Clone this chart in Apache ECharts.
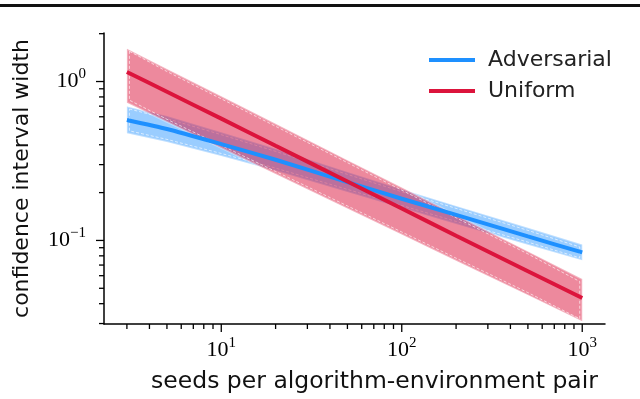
<!DOCTYPE html>
<html>
<head>
<meta charset="utf-8">
<script src="https://cdn.jsdelivr.net/npm/echarts@6/dist/echarts.min.js"></script>
<style>
  html, body { margin: 0; padding: 0; background: #fff; }
  #chart { width: 640px; height: 399px; }
</style>
</head>
<body>
<div id="chart"></div>
<script>
// seeds per algorithm-environment pair (x)
var seeds = [3, 5, 10, 20, 50, 100, 200, 500, 1000];

// Adversarial: mean width and band
var advMean = [0.573, 0.503, 0.404, 0.322, 0.233, 0.183, 0.145, 0.106, 0.0841];
var advLow  = [0.472, 0.417, 0.340, 0.275, 0.202, 0.160, 0.127, 0.0941, 0.075];
var advHigh = [0.696, 0.606, 0.480, 0.377, 0.270, 0.210, 0.165, 0.120, 0.0944];

// Uniform: mean width and band
var uniMean = [1.149, 0.862, 0.584, 0.394, 0.235, 0.159, 0.107, 0.064, 0.0434];
var uniLow  = [0.736, 0.558, 0.382, 0.262, 0.159, 0.109, 0.0746, 0.0453, 0.031];
var uniHigh = [1.607, 1.199, 0.807, 0.542, 0.320, 0.215, 0.144, 0.0853, 0.0572];

// axis ranges and ticks
var X_MIN = 2.24, X_MAX = 1337;
var Y_MIN = 0.0298, Y_MAX = 2.02;
var xMajor = [10, 100, 1000];
var xMinor = [3, 4, 5, 6, 7, 8, 9, 20, 30, 40, 50, 60, 70, 80, 90, 200, 300, 400, 500, 600, 700, 800, 900];
var yMajor = [0.1, 1];
var yMinor = [0.03, 0.04, 0.05, 0.06, 0.07, 0.08, 0.09, 0.2, 0.3, 0.4, 0.5, 0.6, 0.7, 0.8, 0.9, 2];

var chart = echarts.init(document.getElementById('chart'));

function powLabel(v) {
    var e = Math.log10(v);
    var r = Math.round(e);
    if (Math.abs(e - r) > 1e-6) return '';
    return '{b|10}{s|' + (r < 0 ? '\u2212' + (-r) : r) + '}';
}

var labelRich = {
    b: { fontFamily: 'Liberation Serif', fontSize: 22, lineHeight: 29, color: '#000' },
    s: { fontFamily: 'Liberation Serif', fontSize: 15, lineHeight: 16, verticalAlign: 'top', color: '#000' }
};

// band polygon drawn through the axes
function bandSeries(name, lo, hi, fill, z) {
    return {
        name: name,
        type: 'custom',
        coordinateSystem: 'cartesian2d',
        silent: true,
        clip: true,
        z: z,
        data: seeds.map(function (s, i) { return [s, lo[i], hi[i]]; }),
        encode: { x: 0, y: [1, 2] },
        renderItem: function (params, api) {
            if (params.dataIndex !== 0) return null;
            var n = seeds.length, d = 2.5;
            var top = [], bot = [];
            for (var i = 0; i < n; i++) {
                top.push(api.coord([seeds[i], hi[i]]));
                bot.push(api.coord([seeds[i], lo[i]]));
            }
            var outer = top.concat(bot.slice().reverse());
            function shift(p, i, dy) {
                var dx = i === 0 ? d : (i === n - 1 ? -d : 0);
                return [p[0] + dx, p[1] + dy];
            }
            var inner = top.map(function (p, i) { return shift(p, i, d); })
                .concat(bot.map(function (p, i) { return shift(p, i, -d); }).reverse());
            return {
                type: 'group',
                children: [
                    { type: 'polygon', shape: { points: outer },
                      style: { fill: fill, stroke: 'rgba(255,255,255,0.35)', lineWidth: 2 } },
                    { type: 'polygon', shape: { points: inner },
                      style: { fill: 'none', stroke: 'rgba(255,255,255,0.8)', lineWidth: 0.8, lineDash: [3, 2] } }
                ]
            };
        }
    };
}

// tick marks (major + minor) drawn on the axes
function tickSeries(axis, values, len) {
    return {
        type: 'custom',
        coordinateSystem: 'cartesian2d',
        silent: true,
        clip: false,
        z: 10,
        data: values.map(function (v) { return axis === 'x' ? [v, Y_MIN] : [X_MIN, v]; }),
        encode: { x: 0, y: 1 },
        renderItem: function (params, api) {
            var p = api.coord([api.value(0), api.value(1)]);
            var q = axis === 'x' ? [p[0], p[1] + len] : [p[0] - len, p[1]];
            return { type: 'line', shape: { x1: p[0], y1: p[1], x2: q[0], y2: q[1] },
                     style: { stroke: '#000', lineWidth: 1.3 } };
        }
    };
}

var option = {
    animation: false,
    backgroundColor: '#fff',
    grid: { left: 104, right: 35, top: 33, bottom: 73 },
    legend: {
        data: ['Adversarial', 'Uniform'],
        orient: 'vertical',
        left: 424,
        top: 44,
        icon: 'rect',
        itemWidth: 46,
        itemHeight: 4,
        itemGap: 9,
        textStyle: { fontFamily: 'DejaVu Sans', fontSize: 22, color: '#222', padding: [0, 0, 0, 8] }
    },
    xAxis: {
        type: 'log',
        logBase: 10,
        min: X_MIN,
        max: X_MAX,
        name: 'seeds per algorithm-environment pair',
        nameLocation: 'middle',
        nameGap: 46,
        nameTextStyle: { fontFamily: 'DejaVu Sans', fontSize: 23.5, color: '#111', padding: [0, 0, 0, 40] },
        axisLine: { lineStyle: { color: '#000', width: 1.5 } },
        axisTick: { show: false },
        splitLine: { show: false },
        axisLabel: { margin: 12, formatter: powLabel, rich: labelRich }
    },
    yAxis: {
        type: 'log',
        logBase: 10,
        min: Y_MIN,
        max: Y_MAX,
        name: 'confidence interval width',
        nameLocation: 'middle',
        nameGap: 71,
        nameTextStyle: { fontFamily: 'DejaVu Sans', fontSize: 22, color: '#111' },
        axisLine: { show: true, lineStyle: { color: '#000', width: 1.5 } },
        axisTick: { show: false },
        splitLine: { show: false },
        axisLabel: { margin: 18, formatter: powLabel, rich: labelRich }
    },
    graphic: [
        { type: 'rect', left: 0, top: 4, shape: { width: 640, height: 3 }, style: { fill: '#111' }, silent: true }
    ],
    series: [
        bandSeries('Adversarial band', advLow, advHigh, 'rgba(30,144,255,0.45)', 1),
        bandSeries('Uniform band', uniLow, uniHigh, 'rgba(220,20,60,0.5)', 2),
        {
            name: 'Adversarial', type: 'line', z: 3, smooth: 0.2, showSymbol: false,
            data: seeds.map(function (s, i) { return [s, advMean[i]]; }),
            lineStyle: { color: '#1e90ff', width: 4 }, itemStyle: { color: '#1e90ff' }
        },
        {
            name: 'Uniform', type: 'line', z: 4, smooth: 0.2, showSymbol: false,
            data: seeds.map(function (s, i) { return [s, uniMean[i]]; }),
            lineStyle: { color: '#dc143c', width: 4 }, itemStyle: { color: '#dc143c' }
        },
        tickSeries('x', xMajor, 8),
        tickSeries('x', xMinor, 5),
        tickSeries('y', yMajor, 8),
        tickSeries('y', yMinor, 5)
    ]
};

chart.setOption(option);
</script>
</body>
</html>
